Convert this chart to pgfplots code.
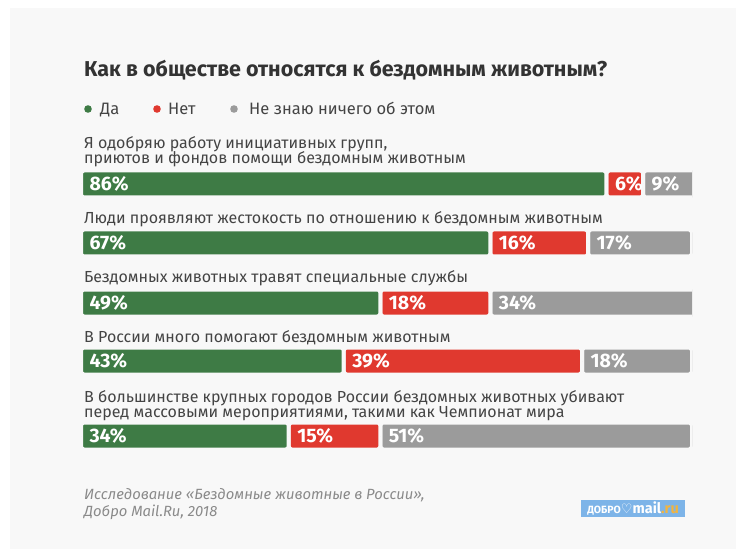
\documentclass[border=0pt]{standalone}
\usepackage{fontspec}
\setmainfont{Fira Sans}
\newfontfamily\symfont{DejaVu Sans}
\usepackage{pgfplots}
\pgfplotsset{compat=1.18}
\usepackage{pgfplotstable}

\definecolor{cg}{HTML}{3E7B45}
\definecolor{cr}{HTML}{E0392F}
\definecolor{cy}{HTML}{9B9B9B}
\definecolor{card}{HTML}{F8F8F8}
\definecolor{ttl}{HTML}{333333}
\definecolor{txt}{HTML}{444444}
\definecolor{foot}{HTML}{8A8A8A}
\definecolor{logo}{HTML}{7DB4E8}
\definecolor{ru}{HTML}{F2B440}

% y = row position (pt from top, negative), shares in %
\pgfplotstableread{
y    da  net ne
-184 86  6   9
-243 67  16  17
-303 49  18  34
-361 43  39  18
-436 34  15  51
}\rows

\pgfplotsset{
  frame/.style={at={(81pt,0pt)}, anchor=north west, scale only axis,
    width=611pt, height=559pt, xmin=0, xmax=100, ymin=-559, ymax=0, hide axis},
  seg/.style={draw=card, line width=4pt, rounded corners=3pt},
  pct/.style={only marks, mark=*, mark size=0pt,
    mark options={draw=none, fill=none},
    nodes near coords={\pgfmathprintnumber{\pgfplotspointmeta}\%},
    point meta=explicit,
    /pgf/number format/assume math mode=true,
    nodes near coords style={anchor=west, xshift=5pt, text=white,
      font=\bfseries\fontsize{19.5}{19.5}\selectfont}},
}

\begin{document}
\begin{tikzpicture}[x=1pt,y=1pt]
\fill[white] (0,0) rectangle (744,-559);
\fill[card] (10,-8) rectangle (736,-549);

\node[anchor=base west, inner sep=0, text=ttl, font=\bfseries\fontsize{21.5}{24}\selectfont]
  at (84,-77) {Как в обществе относятся к бездомным животным?};

% legend
\begin{scope}[font=\fontsize{16.5}{18}\selectfont, text=txt]
\fill[cg] (88,-109) circle (3.8);
\node[anchor=base west, inner sep=0] at (100,-114.5) {Да};
\fill[cr] (157,-109) circle (3.8);
\node[anchor=base west, inner sep=0] at (168,-114.5) {Нет};
\fill[cy] (234,-109) circle (3.8);
\node[anchor=base west, inner sep=0] at (249,-114.5) {Не знаю ничего об этом};
\end{scope}

% row labels
\begin{scope}[font=\fontsize{16}{18}\selectfont, text=txt]
\node[anchor=base west, inner sep=0] at (84,-149) {Я одобряю работу инициативных групп,};
\node[anchor=base west, inner sep=0] at (84,-164) {приютов и фондов помощи бездомным животным};
\node[anchor=base west, inner sep=0] at (84,-223) {Люди проявляют жестокость по отношению к бездомным животным};
\node[anchor=base west, inner sep=0] at (84,-282) {Бездомных животных травят специальные службы};
\node[anchor=base west, inner sep=0] at (84,-342) {В России много помогают бездомным животным};
\node[anchor=base west, inner sep=0] at (84,-402) {В большинстве крупных городов России бездомных животных убивают};
\node[anchor=base west, inner sep=0] at (84,-417) {перед массовыми мероприятиями, такими как Чемпионат мира};
\end{scope}

\begin{axis}[frame, xbar stacked, bar width=27pt, clip=true]
\addplot[seg, fill=cg] table[x=da, y=y] {\rows};
\addplot[seg, fill=cr] table[x=net, y=y] {\rows};
\addplot[seg, fill=cy] table[x=ne, y=y] {\rows};
\end{axis}

\begin{axis}[frame, clip=false]
\addplot[pct] table[x expr=0, y=y, meta=da] {\rows};
\addplot[pct] table[x expr=\thisrow{da}, y=y, meta=net] {\rows};
\addplot[pct] table[x expr=\thisrow{da}+\thisrow{net}, y=y, meta=ne] {\rows};
\end{axis}

% footer
\begin{scope}[font=\itshape\fontsize{14.8}{16}\selectfont, text=foot]
\node[anchor=base west, inner sep=0] at (84,-499) {Исследование «Бездомные животные в России»,};
\node[anchor=base west, inner sep=0] at (84,-516) {Добро Mail.Ru, 2018};
\end{scope}
\node[fill=logo, anchor=east, minimum height=17, inner xsep=6pt, inner ysep=0pt]
  at (685,-508.5) {\bfseries\color{white}\fontsize{10.5}{10}\selectfont ДОБРО%
  {\symfont\fontsize{13}{13}\selectfont ♡}\fontsize{14.5}{14}\selectfont mail%
  \textcolor{ru}{.ru}};
\end{tikzpicture}
\end{document}
